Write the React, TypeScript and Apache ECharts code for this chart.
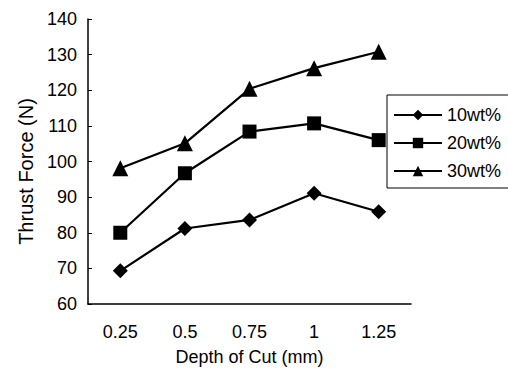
import React, { useEffect, useRef } from "react";
import * as echarts from "echarts";

const categories = ["0.25", "0.5", "0.75", "1", "1.25"];
const seriesNames = ["10wt%", "20wt%", "30wt%"];
const wt10 = [69.3, 81.2, 83.6, 91.1, 85.9];
const wt20 = [80, 96.7, 108.4, 110.7, 106];
const wt30 = [98.1, 105.1, 120.4, 126.2, 130.8];
const symbols = ["diamond", "rect", "triangle"];
const symbolSizes = [15, 14, 16];

const FONT = "Liberation Sans";

export default function App() {
  const ref = useRef<HTMLDivElement>(null);
  useEffect(() => {
    if (!ref.current) return;
    const chart = echarts.init(ref.current, undefined, { renderer: "svg" });
    const data = [wt10, wt20, wt30];
    chart.setOption({
      animation: false,
      backgroundColor: "#fff",
      textStyle: { fontFamily: FONT, color: "#000" },
      grid: { left: 88, right: 97, top: 19, bottom: 70 },
      legend: {
        orient: "vertical",
        left: 387,
        top: 95,
        data: seriesNames,
        borderColor: "#000",
        borderWidth: 1,
        borderRadius: 0,
        padding: [11, 30, 8, 6],
        itemWidth: 48,
        itemHeight: 13,
        itemGap: 10,
        textStyle: { fontFamily: FONT, fontSize: 18, color: "#000" },
      },
      xAxis: {
        type: "category",
        data: categories,
        boundaryGap: true,
        name: "Depth of Cut (mm)",
        nameLocation: "middle",
        nameGap: 44,
        nameTextStyle: { fontFamily: FONT, fontSize: 18, color: "#000" },
        axisLine: { lineStyle: { color: "#000", width: 1.5 } },
        axisTick: { inside: true, length: 5, lineStyle: { color: "#000" } },
        axisLabel: { fontFamily: FONT, fontSize: 18, color: "#000", margin: 19 },
        splitLine: { show: false },
      },
      yAxis: {
        type: "value",
        min: 60,
        max: 140,
        interval: 10,
        name: "Thrust Force (N)",
        nameLocation: "middle",
        nameGap: 52,
        nameTextStyle: { fontFamily: FONT, fontSize: 20, color: "#000", padding: [0, 20, 0, 0] },
        axisLine: { show: true, lineStyle: { color: "#000", width: 1.5 } },
        axisTick: { show: true, inside: true, length: 4, lineStyle: { color: "#000" } },
        axisLabel: { fontFamily: FONT, fontSize: 18, color: "#000", margin: 11 },
        splitLine: { show: false },
      },
      series: seriesNames.map((name, i) => ({
        name,
        type: "line",
        data: data[i],
        symbol: symbols[i],
        symbolSize: symbolSizes[i],
        lineStyle: { color: "#000", width: 2.2 },
        itemStyle: { color: "#000" },
      })),
    });
    return () => chart.dispose();
  }, []);
  return <div ref={ref} style={{ width: 508, height: 374, position: "absolute", left: 0, top: 0 }} />;
}
